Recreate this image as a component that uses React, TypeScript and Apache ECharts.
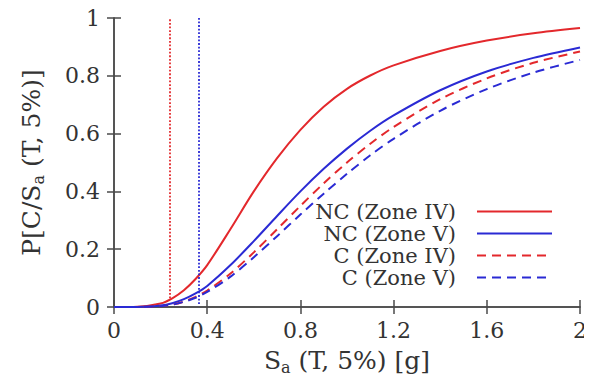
import React, { useEffect, useRef } from "react";
import * as echarts from "echarts";

const xValues = [0, 0.1, 0.2, 0.25, 0.3, 0.35, 0.4, 0.5, 0.6, 0.7, 0.8, 0.9, 1.0, 1.1, 1.2, 1.4, 1.6, 1.8, 2.0];
const ncZoneIV = [0, 0.001, 0.012, 0.03, 0.058, 0.097, 0.145, 0.27, 0.4, 0.515, 0.613, 0.693, 0.755, 0.801, 0.836, 0.886, 0.922, 0.947, 0.965];
const ncZoneV = [0, 0, 0.005, 0.013, 0.027, 0.047, 0.073, 0.145, 0.228, 0.315, 0.4, 0.478, 0.548, 0.61, 0.663, 0.75, 0.815, 0.862, 0.898];
const cZoneIV = [0, 0, 0.003, 0.008, 0.019, 0.035, 0.057, 0.116, 0.189, 0.269, 0.35, 0.428, 0.5, 0.565, 0.623, 0.719, 0.791, 0.845, 0.884];
const cZoneV = [0, 0, 0.003, 0.008, 0.018, 0.032, 0.052, 0.105, 0.172, 0.245, 0.32, 0.392, 0.461, 0.525, 0.582, 0.679, 0.754, 0.811, 0.855];
const seriesNames = ["NC (Zone IV)", "NC (Zone V)", "C (Zone IV)", "C (Zone V)"];
const thresholdIV = 0.24;
const thresholdV = 0.365;

const RED = "#e3282c";
const BLUE = "#2a2ad4";
const AXIS = "#4a4a4a";
const FONT = "DejaVu Serif";

const pairs = (ys: number[]) => xValues.map((x, i) => [x, ys[i]]);

export default function App() {
  const ref = useRef<HTMLDivElement>(null);
  useEffect(() => {
    if (!ref.current) return;
    const chart = echarts.init(ref.current, null, { renderer: "svg" });
    const fmt = (v: number) => String(+v.toFixed(1));
    const axisCommon = {
      type: "value" as const,
      axisLine: { show: true, lineStyle: { color: AXIS, width: 1.5 } },
      axisTick: { show: true, inside: true, length: 7, lineStyle: { color: AXIS, width: 1.5 } },
      splitLine: { show: false },
    };
    const legendCommon = (name: string, top: number) => ({
      data: [name],
      orient: "vertical",
      align: "right",
      right: 39,
      top,
      padding: 0,
      itemWidth: 75,
      itemHeight: 12,
      selectedMode: false,
      itemStyle: { opacity: 0 },
      textStyle: { fontFamily: FONT, fontSize: 21, color: "#333", padding: [0, 16, 0, 0] },
    });
    const dotted = (x: number, y0: number, color: string) => ({
      silent: true,
      symbol: "none",
      label: { show: false },
      lineStyle: { color, type: "dotted", width: 1.8 },
      data: [[{ coord: [x, y0] }, { coord: [x, 1] }]],
    });
    const subRich = {
      n: { fontFamily: FONT, fontSize: 25, color: "#333", lineHeight: 30 },
      s: { fontFamily: FONT, fontSize: 16, color: "#333", lineHeight: 30, verticalAlign: "bottom", padding: [14, 0, 0, 0] },
    };
    const line = (name: string, ys: number[], color: string, dashed: boolean, extra: object = {}) => ({
      name,
      type: "line",
      data: pairs(ys),
      smooth: 0.3,
      symbol: "none",
      lineStyle: { color, width: 2, type: dashed ? [9, 6] : "solid" },
      itemStyle: { color },
      ...extra,
    });
    chart.setOption({
      animation: false,
      grid: { left: 114, right: 12, top: 18, bottom: 76 },
      xAxis: [
        {
          ...axisCommon,
          min: 0,
          max: 2,
          interval: 0.4,
          position: "bottom",
          axisLabel: { fontFamily: FONT, fontSize: 22, color: "#333", margin: 12, formatter: fmt },
          name: "{n|S}{s|a}{n| (T, 5%) [g]}",
          nameLocation: "middle",
          nameGap: 38,
          nameTextStyle: { rich: subRich },
        },
        {
          ...axisCommon,
          min: 0,
          max: 2,
          interval: 0.4,
          position: "top",
          axisLabel: { show: false },
        },
      ],
      yAxis: [
        {
          ...axisCommon,
          min: 0,
          max: 1,
          interval: 0.2,
          position: "left",
          axisLabel: { fontFamily: FONT, fontSize: 22, color: "#333", margin: 14, formatter: fmt },
          name: "{n|P[C/S}{s|a}{n| (T, 5%)]}",
          nameLocation: "middle",
          nameGap: 68,
          nameRotate: 90,
          nameTextStyle: { rich: subRich },
        },
        {
          ...axisCommon,
          min: 0,
          max: 1,
          interval: 0.2,
          position: "right",
          axisLabel: { show: false },
        },
      ],
      legend: [
        legendCommon(seriesNames[0], 201),
        legendCommon(seriesNames[1], 223),
        legendCommon(seriesNames[2], 245),
        legendCommon(seriesNames[3], 267),
      ],
      series: [
        line(seriesNames[0], ncZoneIV, RED, false, { markLine: dotted(thresholdIV, 0.03, RED) }),
        line(seriesNames[1], ncZoneV, BLUE, false, { markLine: dotted(thresholdV, 0.01, BLUE) }),
        line(seriesNames[2], cZoneIV, RED, true),
        line(seriesNames[3], cZoneV, BLUE, true),
      ],
    });
    return () => chart.dispose();
  }, []);
  return <div ref={ref} style={{ width: 592, height: 383, margin: -8, background: "#fff" }} />;
}
